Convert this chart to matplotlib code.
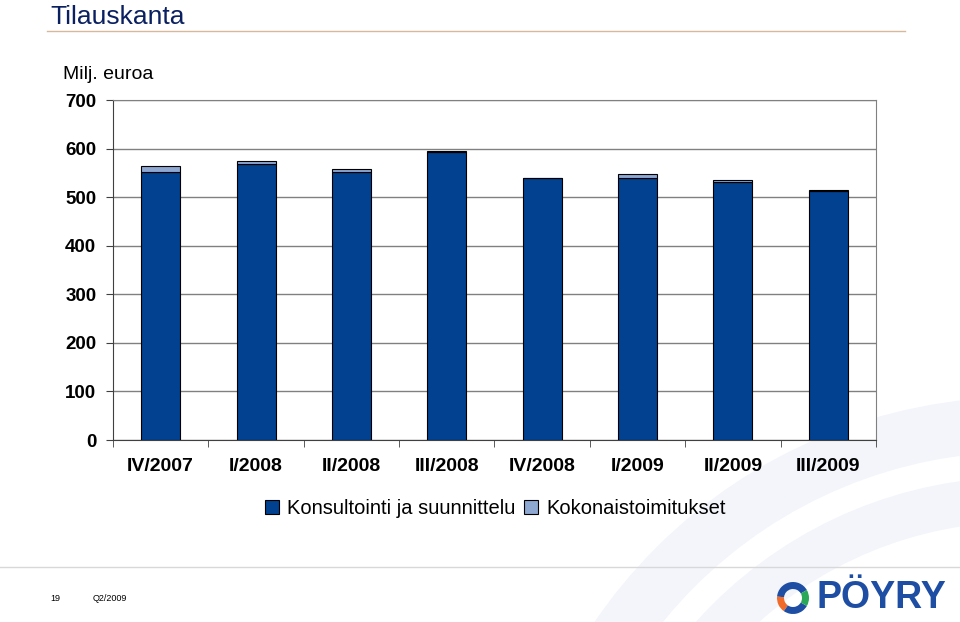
import matplotlib
matplotlib.use("Agg")
import matplotlib.pyplot as plt
from matplotlib.patches import Wedge
import numpy as np

# order book by quarter, MEUR
quarters = ["IV/2007", "I/2008", "II/2008", "III/2008", "IV/2008",
            "I/2009", "II/2009", "III/2009"]
konsultointi = [552, 569, 552, 594, 539, 540, 532, 513]
kokonais = [12, 5, 5, 1, 1, 8, 3, 1]

dark = "#024090"
light = "#8ea8d2"

plt.rcParams["font.family"] = ["Liberation Sans", "DejaVu Sans"]

fig = plt.figure(figsize=(9.6, 6.22), dpi=100)

# faint background swoosh, drawn in inches so it stays round
for r, w in [(5.15, 0.55), (4.35, 0.45)]:
    fig.add_artist(Wedge((10.2, -2.9), r, 90, 180, width=w, facecolor="#f3f5fa",
                         edgecolor="none", transform=fig.dpi_scale_trans, zorder=0))

ax = fig.add_axes([0.1177, 0.2926, 0.7948, 0.5466])
ax.patch.set_facecolor("white")

x = np.arange(len(quarters))
ax.bar(x, konsultointi, width=0.41, color=dark, edgecolor="black", linewidth=0.8,
       label="Konsultointi ja suunnittelu", zorder=3)
ax.bar(x, kokonais, width=0.41, bottom=konsultointi, color=light, edgecolor="black",
       linewidth=0.8, label="Kokonaistoimitukset", zorder=3)

ax.set_xlim(-0.5, len(quarters) - 0.5)
ax.set_ylim(0, 700)
ax.set_yticks(range(0, 701, 100))
ax.yaxis.grid(True, color="#808080", linewidth=1.0, zorder=0)
ax.set_xticks(x)
ax.set_xticklabels(quarters, fontsize=14, fontweight="bold")
ax.set_xticks(np.arange(-0.5, len(quarters), 1), minor=True)
ax.tick_params(axis="x", which="major", length=0, pad=13)
ax.tick_params(axis="x", which="minor", length=5, direction="out", color="#404040")
ax.tick_params(axis="y", length=5, direction="out", labelsize=13.5, color="#404040", pad=7)
for lab in ax.get_yticklabels():
    lab.set_fontweight("bold")

for s in ["top", "right"]:
    ax.spines[s].set_color("#808080")
ax.spines["left"].set_color("#404040")
ax.spines["bottom"].set_color("#404040")

fig.text(0.066, 0.88, "Milj. euroa", fontsize=14, va="center")

leg = fig.legend(loc="center", bbox_to_anchor=(0.516, 0.183), ncol=2, frameon=False,
                 fontsize=14.5, handlelength=0.7, handleheight=0.7,
                 handletextpad=0.4, columnspacing=0.4)

# slide decoration
fig.text(0.052, 0.962, "Tilauskanta", fontsize=19, color="#0a2060", va="baseline")
fig.add_artist(plt.Line2D([0.049, 0.943], [0.95, 0.95], color="#d8b89a", linewidth=1))
fig.add_artist(plt.Line2D([0.0, 1.0], [0.088, 0.088], color="#d8d8d8", linewidth=1))
fig.text(0.052, 0.038, "19", fontsize=6.5, va="center")
fig.text(0.097, 0.038, "Q2/2009", fontsize=6.5, va="center")

# logo: swirl + name
cx, cy = 7.93, 0.24
for t1, t2, c in [(30, 175, "#1d4ea3"), (175, 235, "#f06a2a"),
                  (235, 330, "#1d4ea3"), (330, 30, "#2aa85a")]:
    fig.add_artist(Wedge((cx, cy), 0.16, t1, t2, width=0.07, facecolor=c,
                         edgecolor="none", transform=fig.dpi_scale_trans))
fig.text(0.851, 0.038, "PÖYRY", fontsize=27, fontweight="bold", color="#1d4ea3",
         va="center")

fig.savefig("out.png", dpi=100)
